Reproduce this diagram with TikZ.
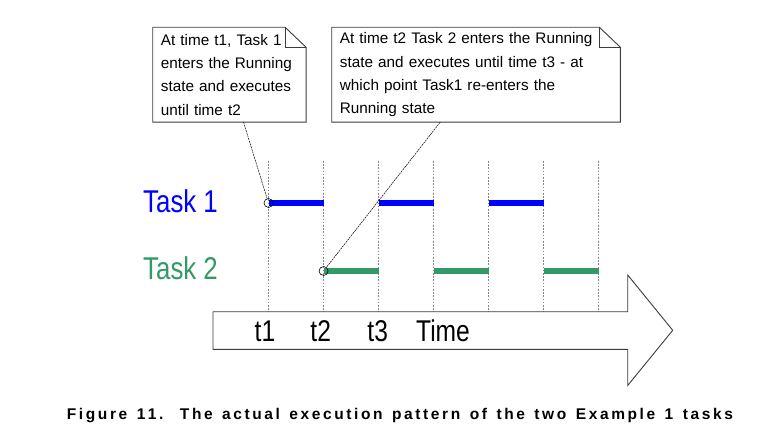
\documentclass[tikz,border=0pt]{standalone}
\usepackage{fontspec}
\setmainfont{Liberation Sans}
\newfontfamily\narrowfont[FakeStretch=0.82]{Liberation Sans}
\usepackage{tikz}
\definecolor{taskone}{RGB}{0, 0, 255}
\definecolor{tasktwo}{RGB}{51, 153, 102}
\definecolor{grid}{RGB}{130, 130, 130}
\definecolor{edge}{RGB}{60, 60, 60}
\newcommand\spreadtext[1]{\spreadnext#1\relax}
\def\spreadnext#1{\ifx\relax#1\else#1\kern2.6pt\relax\expandafter\spreadnext\fi}

\tikzset{
  note/.style={inner xsep=8pt, inner ysep=0pt, align=left, anchor=north west,
               minimum height=94.4pt, font=\fontsize{15.3}{23.3}\selectfont},
  outline/.style={draw=edge, line width=0.9pt, line join=miter},
  tick/.style={grid, line width=0.8pt, dash pattern=on 1.6pt off 1.6pt},
  slot/.style={line width=6.5pt},
  startmark/.style={circle, draw=black, line width=0.6pt, minimum size=9pt, inner sep=0pt},
  leader/.style={black, line width=0.5pt, dash pattern=on 2pt off 0.8pt},
  tasklabel/.style={anchor=base west, inner sep=0pt, font=\narrowfont\fontsize{31.5}{36}\selectfont},
  timelabel/.style={anchor=base, inner sep=0pt, font=\narrowfont\fontsize{30}{36}\selectfont},
  caption/.style={anchor=base west, inner sep=0pt, font=\bfseries\fontsize{15.5}{18}\selectfont}
}

\begin{document}
\begin{tikzpicture}[x=1pt, y=-1pt]
  \pgfmathsetmacro{\tz}{268.5}
  \pgfmathsetmacro{\dt}{55.05}
  \useasboundingbox (0, 0) rectangle (762, 438);

  \foreach \k in {0, ..., 6} {
    \draw[tick] ({\tz + \k * \dt}, 161) -- ({\tz + \k * \dt}, 311.7);
  }

  \foreach \k in {0, 2, 4} {
    \draw[slot, taskone] ({\tz + \k * \dt}, 203) -- ({\tz + (\k + 1) * \dt}, 203);
    \draw[slot, tasktwo] ({\tz + (\k + 1) * \dt}, 271) -- ({\tz + (\k + 2) * \dt}, 271);
  }

  \node[startmark] (start1) at (\tz, 203) {};
  \node[startmark] (start2) at ({\tz + \dt}, 271) {};

  \node[tasklabel, taskone] (task1) at (143, 212.3) {Task 1};
  \node[tasklabel, tasktwo] (task2) at (143, 279.3) {Task 2};

  \node[note, minimum width=153pt, text width=137pt] (note1) at (152.7, 27.3)
    {At time t1, Task 1\\enters the Running\\state and executes\\until time t2};
  \node[note, minimum width=288.3pt, text width=272.3pt] (note2) at (331.7, 27.3)
    {At time t2 Task 2 enters the Running\\state and executes until time t3 - at\\which point Task1 re-enters the\\Running state};

  \foreach \n in {note1, note2} {
    \draw[outline] (\n.north west) -- ([xshift=-21pt]\n.north east)
                -- ([yshift=-20pt]\n.north east) -- (\n.south east)
                -- (\n.south west) -- cycle;
    \draw[outline] ([xshift=-21pt]\n.north east) |- ([yshift=-20pt]\n.north east);
  }

  \draw[leader] ([xshift=14.1pt]note1.south) -- (start1);
  \draw[leader] ([xshift=-35.8pt]note2.south) -- (start2);

  \filldraw[fill=white, outline] (213, 311.7) -- (627.7, 311.7) -- (627.7, 275)
            -- (672.7, 330.3) -- (627.7, 385.5) -- (627.7, 349.3)
            -- (213, 349.3) -- cycle;

  \node[timelabel] (t1) at (265, 341.7) {t1};
  \node[timelabel] (t2) at (320.7, 341.7) {t2};
  \node[timelabel] (t3) at (377.7, 341.7) {t3};
  \node[timelabel] (time) at (443, 341.7) {Time};

  \node[caption] (figcap) at (66.7, 419)
    {\spreadtext{Figure~11.~~The~actual~execution~pattern~of~the~two~Example~1~tasks}};
\end{tikzpicture}
\end{document}
